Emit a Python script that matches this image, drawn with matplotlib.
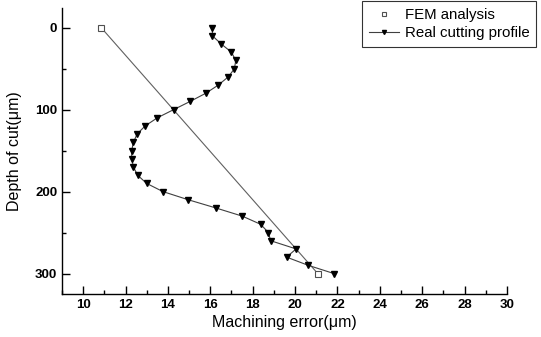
import numpy as np
import matplotlib.pyplot as plt
from matplotlib.ticker import MultipleLocator

plt.rcParams['font.family'] = ['Liberation Sans', 'DejaVu Sans']

# FEM analysis
fem_err = [10.85, 21.07]
fem_depth = [0, 300]

# Real cutting profile
real_err = [16.1, 16.1, 16.52, 17.0, 17.2, 17.14, 16.85, 16.38, 15.79, 15.05,
            14.27, 13.5, 12.92, 12.54, 12.37, 12.29, 12.29, 12.37, 12.57, 12.99,
            13.76, 14.96, 16.26, 17.51, 18.38, 18.74, 18.85, 20.05, 19.6, 20.62,
            21.83]
real_depth = [0, 10, 20, 30, 40, 50, 60, 70, 80, 90,
              100, 110, 120, 130, 140, 150, 160, 170, 180, 190,
              200, 210, 220, 230, 240, 250, 260, 270, 280, 290,
              300]

fig = plt.figure(figsize=(5.41, 3.37), dpi=100)
ax = fig.add_axes([0.1146, 0.1276, 0.8224, 0.8487])

ax.plot(fem_err, fem_depth, color='#606060', lw=0.8, zorder=2)
ax.plot(fem_err, fem_depth, ls='none', marker='s', ms=5, mfc='white',
        mec='#505050', mew=0.8, label='FEM analysis', zorder=3)
ax.plot(real_err, real_depth, color='#404040', lw=0.8, marker='v', ms=4.2,
        mfc='black', mec='black', label='Real cutting profile', zorder=3)

ax.set_xlim(9, 30)
ax.set_ylim(325, -24)
ax.xaxis.set_minor_locator(MultipleLocator(1))
ax.yaxis.set_minor_locator(MultipleLocator(50))
ax.set_xticks(np.arange(10, 31, 2))
ax.set_yticks([0, 100, 200, 300])

for s in ['top', 'right']:
    ax.spines[s].set_visible(False)
ax.spines['left'].set_linewidth(1.0)
ax.spines['bottom'].set_linewidth(1.0)
ax.tick_params(which='major', direction='in', length=6, width=1.0, labelsize=9.5)
ax.tick_params(which='minor', direction='in', length=3, width=1.0)
for lab in ax.get_xticklabels() + ax.get_yticklabels():
    lab.set_fontweight('bold')

ax.set_xlabel('Machining error(\u03bcm)', fontsize=11.5, labelpad=3)
ax.set_ylabel('Depth of cut(\u03bcm)', fontsize=11.5, labelpad=9)

leg = fig.legend(loc='upper left', bbox_to_anchor=(362 / 541, 1 - 1 / 337),
                 fontsize=10.8, frameon=True, fancybox=False, handlelength=2.0,
                 borderpad=0.45, labelspacing=0.3, handletextpad=0.4,
                 borderaxespad=0, markerscale=0.7)
leg.get_frame().set_edgecolor('black')
leg.get_frame().set_linewidth(0.8)

fig.savefig('out.png', dpi=100)
